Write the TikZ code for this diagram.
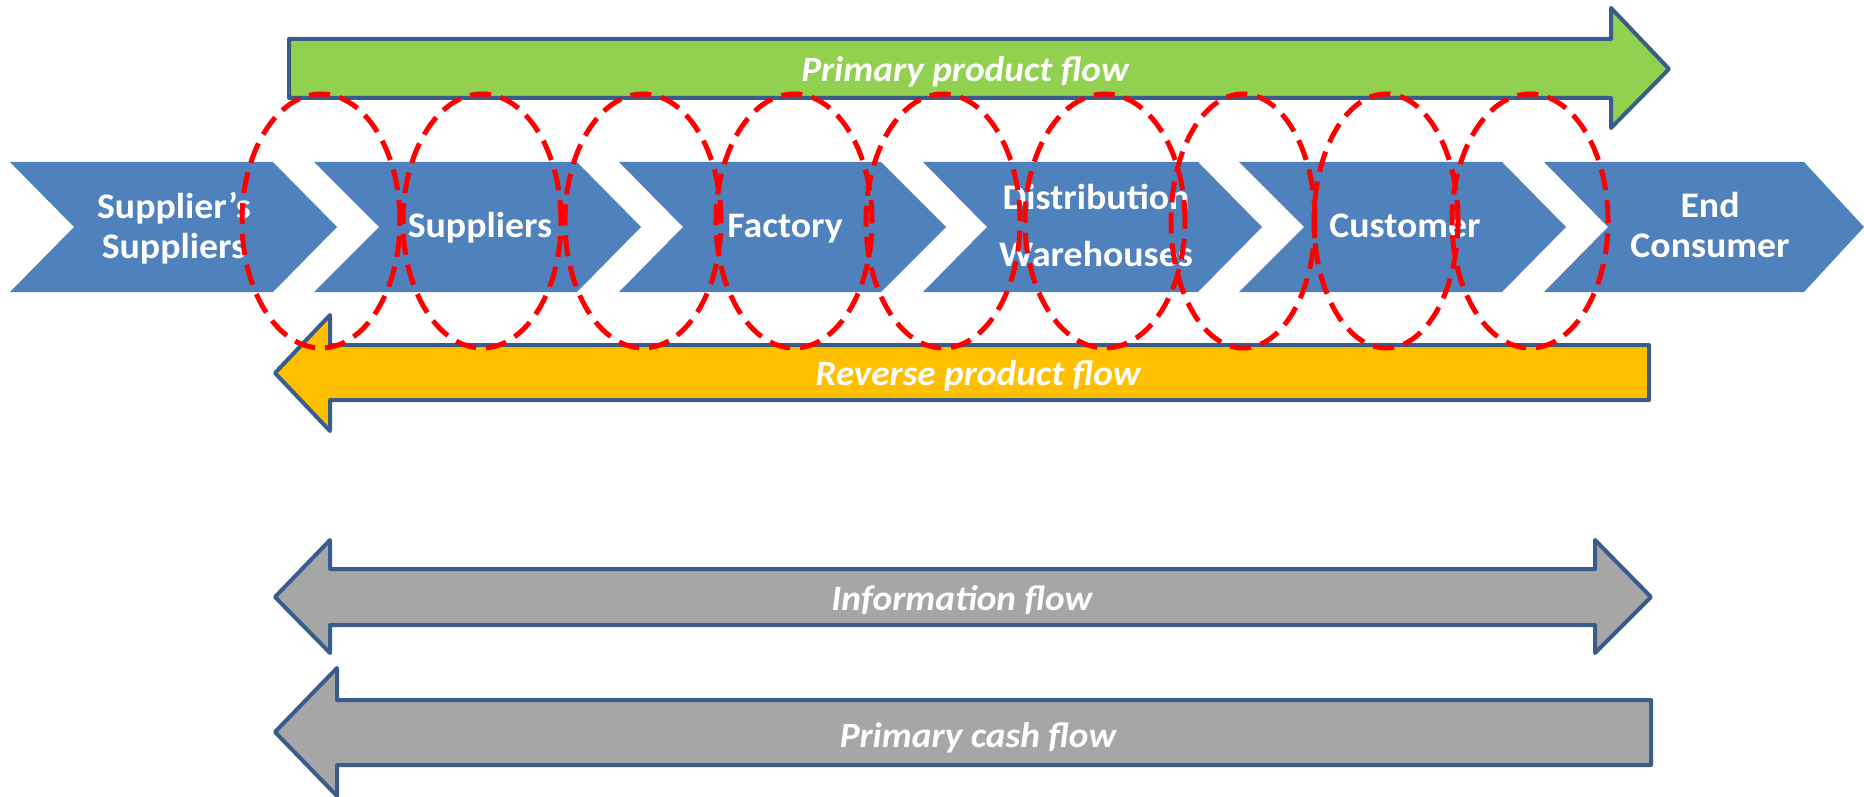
\documentclass[tikz,border=0pt]{standalone}
\usepackage{fontspec}
\setmainfont[FakeStretch=1.05]{Carlito}
\definecolor{chev}{HTML}{4F81BD}
\definecolor{edge}{HTML}{385D8A}
\definecolor{grn}{HTML}{92D050}
\definecolor{yel}{HTML}{FFC000}
\definecolor{gry}{HTML}{A6A6A6}
\begin{document}
\begin{tikzpicture}[x=1pt,y=-1pt,
  chevbox/.style={fill=chev},
  flowarrow/.style={draw=edge,line width=4pt,line join=round},
  chevtext/.style={text=white,font=\fontsize{36}{40}\selectfont\bfseries,align=center,inner sep=0pt},
  flowtext/.style={text=white,font=\fontsize{35.5}{40}\selectfont\bfseries\itshape,inner sep=0pt,anchor=base},
  ring/.style={draw=red,line width=5pt,dash pattern=on 21pt off 10pt}]
\useasboundingbox (0,0) rectangle (1864,797);
% flow arrows
\draw[flowarrow,fill=grn] (289,39) -- (1611,39) -- (1611,8) -- (1669,69) -- (1611,128) -- (1611,98) -- (289,98) -- cycle;
\draw[flowarrow,fill=yel] (1649,345) -- (330,345) -- (330,315) -- (275,373) -- (330,431) -- (330,400) -- (1649,400) -- cycle;
\draw[flowarrow,fill=gry] (330,569) -- (1595,569) -- (1595,540) -- (1651,597) -- (1595,653) -- (1595,625) -- (330,625) -- (330,653) -- (275,597) -- (330,540) -- cycle;
\draw[flowarrow,fill=gry] (1651,700) -- (337,700) -- (337,668) -- (275,732) -- (337,796) -- (337,765) -- (1651,765) -- cycle;
\node[flowtext] (pf) at (965,82) {Primary product flow};
\node[flowtext] (rf) at (978,385) {Reverse product flow};
\node[flowtext] (inf) at (962,610) {Information flow};
\node[flowtext] (cf) at (978,747) {Primary cash flow};
% chevrons
\fill[chevbox] (10,162) -- (273,162) -- (337,227) -- (273,292) -- (10,292) -- (74,227) -- cycle;
\fill[chevbox] (314,162) -- (577,162) -- (641,227) -- (577,292) -- (314,292) -- (379,227) -- cycle;
\fill[chevbox] (619,162) -- (881,162) -- (946,227) -- (881,292) -- (619,292) -- (683,227) -- cycle;
\fill[chevbox] (923,162) -- (1198,162) -- (1262,227) -- (1198,292) -- (923,292) -- (987,227) -- cycle;
\fill[chevbox] (1239,162) -- (1502,162) -- (1566,227) -- (1502,292) -- (1239,292) -- (1304,227) -- cycle;
\fill[chevbox] (1544,162) -- (1804,162) -- (1864,227) -- (1804,292) -- (1544,292) -- (1608,227) -- cycle;
\node[chevtext] (c1) at (174,228) {Supplier’s\\Suppliers};
\node[chevtext,anchor=base] (c2) at (480,237) {Suppliers};
\node[chevtext,anchor=base] (c3) at (785,237) {Factory};
\node[chevtext] (c4) at (1096,225) {Distribution\\[17pt]Warehouses};
\node[chevtext,anchor=base] (c5) at (1405,237) {Customer};
\node[chevtext] (c6) at (1710,225) {End\\Consumer};
% dashed rings
\foreach \cx/\rx in {321/79,482/79,643/78,794/78,943/77,1105/80,1243/72,1386/72,1530/78}
  \draw[ring] (\cx,221) ellipse [x radius=\rx pt, y radius=127pt];
\end{tikzpicture}
\end{document}
